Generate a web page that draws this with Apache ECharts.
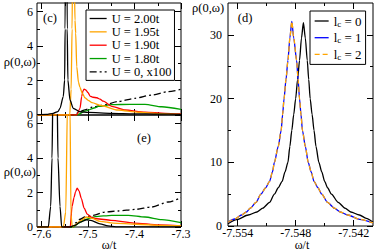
<!DOCTYPE html>
<html><head><meta charset="utf-8">
<script src="https://cdn.jsdelivr.net/npm/echarts@6/dist/echarts.min.js"></script>
<style>html,body{margin:0;padding:0;background:#fff}#c{width:374px;height:252px}</style>
</head><body><div id="c"></div>
<script>
// ---- tick values ----
const xTicksLeft = [-7.6, -7.5, -7.4, -7.3];
const xMinorLeft = [-7.55, -7.45, -7.35];
const yTicksLeft = [0, 2, 4, 6];
const yMinorLeft = [1, 3, 5];
const xTicksRight = [-7.554, -7.548, -7.542];
const xMinorRight = [-7.551, -7.545];
const yTicksRight = [0, 10, 20, 30];
const yMinorRight = [5, 15, 25];

// ---- legend names ----
const uNames = ['U = 2.00t', 'U = 1.95t', 'U = 1.90t', 'U = 1.80t', 'U = 0, x100'];
const lcNames = ['l_c = 0', 'l_c = 1', 'l_c = 2'];

// ---- panel (c) ----
const cU200 = [[-7.61,0.02],[-7.59,0.04],[-7.575,0.1],[-7.565,0.2],[-7.5605,0.39],[-7.5534,1.07],[-7.5505,2.03],[-7.5495,5],[-7.5482,15],[-7.5472,32],[-7.5462,15],[-7.545,5],[-7.5435,2.03],[-7.539,0.87],[-7.532,0.39],[-7.5175,0.19],[-7.5,0.15],[-7.45,0.1],[-7.4,0.07],[-7.35,0.05],[-7.3,0.04]];
const cU195 = [[-7.61,0],[-7.5395,0],[-7.5365,1.5],[-7.5345,5],[-7.533,10],[-7.531,25],[-7.5298,8],[-7.5282,5.5],[-7.5267,4.75],[-7.5245,2.81],[-7.5207,1.9],[-7.5174,1.6],[-7.5131,1.3],[-7.5067,1.0],[-7.4998,0.85],[-7.4916,0.72],[-7.4722,0.55],[-7.4356,0.29],[-7.3926,0.16],[-7.3452,0.08],[-7.3,0.04]];
const cU190 = [[-7.61,0],[-7.5245,0],[-7.5174,0.39],[-7.5138,1.07],[-7.511,1.4],[-7.5085,1.5],[-7.505,1.45],[-7.5,1.3],[-7.4959,1.1],[-7.4895,1.03],[-7.481,1.0],[-7.4744,0.92],[-7.4673,0.8],[-7.4492,0.5],[-7.4205,0.29],[-7.3775,0.16],[-7.3344,0.1],[-7.3,0.06]];
const cU180 = [[-7.61,0],[-7.5239,0],[-7.5067,0.22],[-7.4851,0.42],[-7.478,0.5],[-7.4492,0.6],[-7.4098,0.62],[-7.3775,0.62],[-7.3415,0.48],[-7.3,0.33]];
const cU0 = [[-7.61,0],[-7.5303,0],[-7.5174,0.2],[-7.5067,0.3],[-7.4916,0.45],[-7.4707,0.55],[-7.435,0.78],[-7.399,0.97],[-7.3631,1.16],[-7.3273,1.36],[-7.3,1.49]];

// ---- panel (e) ----
const eU200 = [[-7.61,0],[-7.5857,0],[-7.5805,1.2],[-7.5777,4],[-7.5756,8],[-7.5712,20],[-7.5669,8],[-7.5648,4],[-7.5605,1.2],[-7.5568,0],[-7.539,0],[-7.5282,0.1],[-7.5174,0.28],[-7.503,0.42],[-7.494,0.38],[-7.4744,0.18],[-7.4571,0.06],[-7.44,0.01],[-7.3,0]];
const eU195 = [[-7.61,0],[-7.5533,0],[-7.5481,0.87],[-7.5445,7],[-7.5411,20],[-7.539,7],[-7.5368,0.7],[-7.534,0],[-7.526,0.15],[-7.5174,0.35],[-7.503,0.58],[-7.4916,0.5],[-7.4744,0.33],[-7.4457,0.23],[-7.3954,0.16],[-7.3452,0.1],[-7.3,0.08]];
const eU190 = [[-7.61,0],[-7.5385,0],[-7.5345,1.2],[-7.5303,1.7],[-7.527,2.05],[-7.5235,2.25],[-7.5196,2.1],[-7.5145,1.65],[-7.5085,1.1],[-7.502,0.75],[-7.4922,0.56],[-7.4815,0.48],[-7.4507,0.39],[-7.4012,0.23],[-7.3474,0.12],[-7.3,0.06]];
const eU180 = [[-7.61,0],[-7.5318,0],[-7.5217,0.2],[-7.5067,0.43],[-7.4851,0.6],[-7.4492,0.68],[-7.4134,0.68],[-7.3775,0.58],[-7.3415,0.43],[-7.3,0.26]];
const eU0 = [[-7.61,0],[-7.5346,0],[-7.526,0.25],[-7.5174,0.45],[-7.5067,0.58],[-7.4888,0.68],[-7.4636,0.87],[-7.435,0.93],[-7.399,1.02],[-7.3631,1.16],[-7.3273,1.45],[-7.3,1.7]];

// ---- panel (d) ----
const dLc0 = [[-7.555,0.35],[-7.5541,1.0],[-7.5529,1.73],[-7.552,2.2],[-7.5514,2.8],[-7.5507,3.7],[-7.5502,5],[-7.5498,6],[-7.5494,7],[-7.5491,8.5],[-7.5488,10],[-7.5486,12.5],[-7.5484,15],[-7.5482,17.5],[-7.548,20],[-7.5478,23],[-7.5476,26],[-7.5474,29.5],[-7.5472,31.9],[-7.547,29.5],[-7.5468,26],[-7.54665,23],[-7.5465,20],[-7.5463,17.5],[-7.5461,15],[-7.5459,12.5],[-7.5456,10],[-7.5453,8.5],[-7.545,7],[-7.5447,6],[-7.5443,5],[-7.5436,3.7],[-7.5429,2.8],[-7.5423,2.2],[-7.5414,1.73],[-7.5407,1.2],[-7.54,0.6]];
const dLc1 = [[-7.555,0.6],[-7.5543,1.1],[-7.5536,1.73],[-7.5531,2.2],[-7.5527,2.8],[-7.5521,3.7],[-7.5516,5],[-7.5511,6],[-7.5507,7],[-7.5504,8.5],[-7.5502,10],[-7.5498,12.5],[-7.5495,15],[-7.54935,17.5],[-7.5492,20],[-7.549,23],[-7.5488,26],[-7.5486,29.5],[-7.5484,32.1],[-7.5482,29.5],[-7.5479,26],[-7.54775,23],[-7.5476,20],[-7.54745,17.5],[-7.5473,15],[-7.547,12.5],[-7.5467,10],[-7.5464,8.5],[-7.5461,7],[-7.5457,6],[-7.5453,5],[-7.5447,3.7],[-7.544,2.8],[-7.5434,2.2],[-7.5426,1.73],[-7.5414,1.05],[-7.54,0.5]];
const dLc2 = [[-7.555,0.6],[-7.5543,1.1],[-7.5536,1.73],[-7.5531,2.2],[-7.5527,2.8],[-7.5521,3.7],[-7.5516,5],[-7.5511,6],[-7.5507,7],[-7.5504,8.5],[-7.5502,10],[-7.5498,12.5],[-7.5495,15],[-7.54935,17.5],[-7.5492,20],[-7.549,23],[-7.5488,26],[-7.5486,29.5],[-7.5484,32.1],[-7.5482,29.5],[-7.5479,26],[-7.54775,23],[-7.5476,20],[-7.54745,17.5],[-7.5473,15],[-7.547,12.5],[-7.5467,10],[-7.5464,8.5],[-7.5461,7],[-7.5457,6],[-7.5453,5],[-7.5447,3.7],[-7.544,2.8],[-7.5434,2.2],[-7.5426,1.73],[-7.5414,1.05],[-7.54,0.5]];

const FONT = 'Liberation Serif';
const xAxes = [], yAxes = [];
function addAxes(list, grid, min, max, major, minor, pos, labels, fmt, margin) {
  const idx = list.length;
  const isX = (pos === 'bottom' || pos === 'top');
  list.push({
    type: 'value', gridIndex: grid, min: min, max: max, position: pos,
    axisLine: {show: false, onZero: false}, splitLine: {show: false},
    axisTick: {show: true, inside: true, length: 6, customValues: major, lineStyle: {color: '#000', width: 1}},
    axisLabel: {show: labels, customValues: major, formatter: fmt, fontFamily: FONT, fontSize: 12, color: '#000',
                lineHeight: isX ? 11 : 8, margin: margin}
  });
  list.push({
    type: 'value', gridIndex: grid, min: min, max: max, position: pos,
    axisLine: {show: false, onZero: false}, splitLine: {show: false},
    axisTick: {show: true, inside: true, length: 3, customValues: minor, lineStyle: {color: '#000', width: 1}},
    axisLabel: {show: false}
  });
  return idx;
}
const f1 = v => v.toFixed(1), f3 = v => v.toFixed(3), f0 = v => String(Math.round(v));
// grid 0 = (c), 1 = (e), 2 = (d)
const xc = addAxes(xAxes, 0, -7.61, -7.3, xTicksLeft, xMinorLeft, 'bottom', false, f1, 1);
addAxes(xAxes, 0, -7.61, -7.3, xTicksLeft, xMinorLeft, 'top', false, f1, 1);
const yc = addAxes(yAxes, 0, 0, 6.5, yTicksLeft, yMinorLeft, 'left', true, f0, 4);
addAxes(yAxes, 0, 0, 6.5, yTicksLeft, yMinorLeft, 'right', false, f0, 4);
const xe = addAxes(xAxes, 1, -7.61, -7.3, xTicksLeft, xMinorLeft, 'bottom', true, f1, 1);
addAxes(xAxes, 1, -7.61, -7.3, xTicksLeft, xMinorLeft, 'top', false, f1, 1);
const ye = addAxes(yAxes, 1, 0, 6.5, yTicksLeft, yMinorLeft, 'left', true, f0, 4);
addAxes(yAxes, 1, 0, 6.5, yTicksLeft, yMinorLeft, 'right', false, f0, 4);
const xd = addAxes(xAxes, 2, -7.555, -7.54, xTicksRight, xMinorRight, 'bottom', true, f3, 1);
addAxes(xAxes, 2, -7.555, -7.54, xTicksRight, xMinorRight, 'top', false, f3, 1);
const yd = addAxes(yAxes, 2, 0, 35, yTicksRight, yMinorRight, 'left', true, f0, 6);
addAxes(yAxes, 2, 0, 35, yTicksRight, yMinorRight, 'right', false, f0, 6);

const colors = ['#000000', '#ffa500', '#ff0000', '#00a000', '#000000'];
const LW = 1.3;
function ser(name, data, xi, yi, color, type) {
  return {type: 'line', name: name, data: data, xAxisIndex: xi, yAxisIndex: yi, symbol: 'none',
    smooth: 0.25, smoothMonotone: 'x', clip: true, animation: false,
    itemStyle: {color: color}, lineStyle: {color: color, width: LW, type: type || 'solid'}};
}
const dashDot = [7, 3, 2, 3];
const series = [
  ser(uNames[4], cU0, xc, yc, colors[4], dashDot),
  ser(uNames[3], cU180, xc, yc, colors[3]),
  ser(uNames[2], cU190, xc, yc, colors[2]),
  ser(uNames[1], cU195, xc, yc, colors[1]),
  ser(uNames[0], cU200, xc, yc, colors[0]),
  ser(uNames[4], eU0, xe, ye, colors[4], dashDot),
  ser(uNames[3], eU180, xe, ye, colors[3]),
  ser(uNames[2], eU190, xe, ye, colors[2]),
  ser(uNames[1], eU195, xe, ye, colors[1]),
  ser(uNames[0], eU200, xe, ye, colors[0]),
  ser(lcNames[0], dLc0, xd, yd, '#000000'),
  ser(lcNames[1], dLc1, xd, yd, '#0000ff'),
  ser(lcNames[2], dLc2, xd, yd, '#ffa500', [5, 3])
];

const txt = (text, x, y, align, size) => ({type: 'text', x: x, y: y,
  style: {text: text, fontFamily: FONT, fontSize: size || 12.5, fill: '#000', textAlign: align || 'center', textVerticalAlign: 'middle'}});

const chart = echarts.init(document.getElementById('c'), null, {renderer: 'svg'});
chart.setOption({
  animation: false,
  backgroundColor: '#fff',
  grid: [
    {left: 37, top: 3, width: 144, height: 112, show: true, borderColor: '#000', borderWidth: 1, backgroundColor: 'transparent'},
    {left: 37, top: 115, width: 144, height: 112, show: true, borderColor: '#000', borderWidth: 1, backgroundColor: 'transparent'},
    {left: 228, top: 3, width: 145, height: 223, show: true, borderColor: '#000', borderWidth: 1, backgroundColor: 'transparent'}
  ],
  xAxis: xAxes, yAxis: yAxes, series: series,
  legend: [
    {data: uNames, orient: 'vertical', left: 86, top: 10, padding: [2, 3, 2, 3], itemGap: 0.35,
     itemWidth: 17, itemHeight: 12, borderColor: '#000', borderWidth: 1, selectedMode: false,
     backgroundColor: '#fff', itemStyle: {opacity: 0}, lineStyle: {width: LW},
     textStyle: {fontFamily: FONT, fontSize: 12.5, color: '#000', lineHeight: 12}},
    {data: lcNames, orient: 'vertical', left: 310, top: 11, padding: [3, 4, 3, 4], itemGap: 2.7,
     itemWidth: 14, itemHeight: 14, borderColor: '#000', borderWidth: 1, selectedMode: false,
     backgroundColor: '#fff', itemStyle: {opacity: 0}, lineStyle: {width: LW},
     formatter: n => '{a|l}{s|c}{a|' + n.slice(3) + '}',
     textStyle: {fontFamily: FONT, fontSize: 13, color: '#000', lineHeight: 14,
       rich: {a: {fontFamily: FONT, fontSize: 13, lineHeight: 14, color: '#000'},
              s: {fontFamily: FONT, fontSize: 9, lineHeight: 5, verticalAlign: 'bottom', color: '#000'}}}}
  ],
  graphic: [
    txt('ρ(0,ω)', 36, 62, 'right'),
    txt('ρ(0,ω)', 36, 172, 'right'),
    txt('ρ(0,ω)', 192, 8, 'left'),
    txt('ω/t', 109, 245, 'center', 12),
    txt('ω/t', 302, 245, 'center', 12),
    txt('(c)', 50, 18, 'center'),
    txt('(e)', 144, 138, 'center'),
    txt('(d)', 245, 18, 'center')
  ]
});
</script></body></html>
